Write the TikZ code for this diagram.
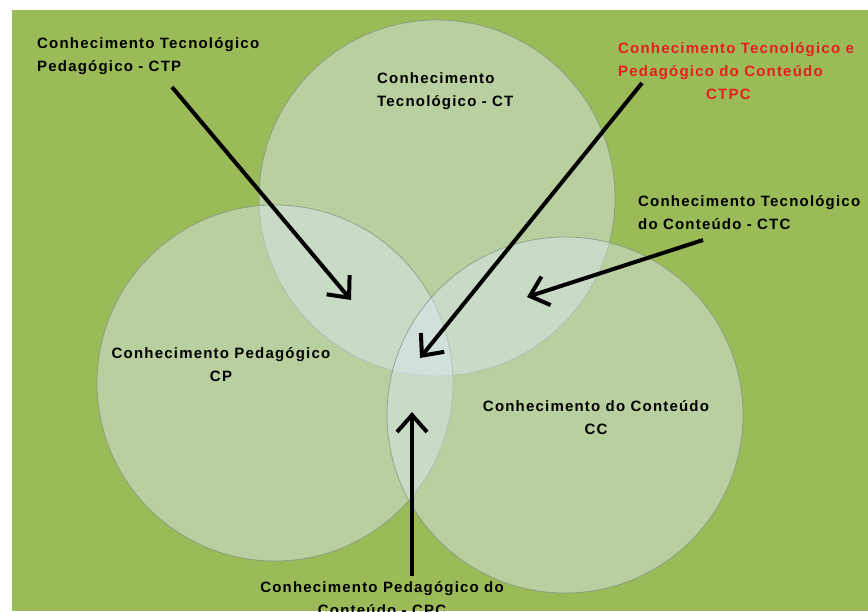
\documentclass[tikz,border=0pt]{standalone}
\usepackage{fontspec}
\setmainfont{Liberation Sans}[LetterSpace=8]
\usetikzlibrary{arrows.meta,positioning}

\definecolor{bggreen}{RGB}{155,187,89}
\definecolor{vennfill}{RGB}{222,232,246}
\definecolor{vennline}{RGB}{120,145,130}
\definecolor{ctpcred}{RGB}{232,30,30}

\begin{document}
\begin{tikzpicture}[x=1pt,y=-1pt,
  venn/.style={circle,draw=vennline,line width=0.8pt,fill=vennfill,fill opacity=0.45,
    draw opacity=0.7,minimum size=356pt,inner sep=0pt},
  lbl/.style={font=\bfseries\fontsize{15}{23}\selectfont,inner sep=0pt},
  pointer/.style={-{Straight Barb[length=17pt,width=30pt]},line width=4pt,black}]
  \useasboundingbox (0,0) rectangle (868,611);
  \fill[white] (0,0) rectangle (868,611);
  \fill[bggreen] (12,10) rectangle (868,611);

  % the three sets
  \node[venn] (ct) at (437,198) {};
  \node[venn] (cp) at (275,383) {};
  \node[venn] (cc) at (565,415) {};

  % labels (placed at the baseline of their last line)
  \node[lbl,anchor=base west,align=left] (ctl) at (377,106)
    {Conhecimento\\Tecnológico - CT};
  \node[lbl,anchor=base,align=center] (cpl) at (221,381)
    {Conhecimento Pedagógico\\CP};
  \node[lbl,anchor=base,align=center] (ccl) at (596,434)
    {Conhecimento do Conteúdo\\CC};
  \node[lbl,anchor=base west,align=left] (ctp) at (37,71)
    {Conhecimento Tecnológico\\Pedagógico - CTP};
  \node[lbl,anchor=base west,align=left,text=ctpcred] (ctpc) at (618,99)
    {Conhecimento Tecnológico e\\Pedagógico do Conteúdo\\\hspace*{88pt}CTPC};
  \node[lbl,anchor=base west,align=left] (ctc) at (638,229)
    {Conhecimento Tecnológico\\do Conteúdo - CTC};
  \node[lbl,anchor=base,align=center] (cpc) at (382,615)
    {Conhecimento Pedagógico do\\Conteúdo - CPC};

  % arrow ends
  \coordinate (ctp-tail) at (172,87);
  \coordinate (ctp-tip) at (351,300);
  \coordinate (ctpc-tail) at (642,83);
  \coordinate (ctpc-tip) at (420,358);
  \coordinate (ctc-tail) at (703,240);
  \coordinate (ctc-tip) at (527,297);
  \coordinate (cpc-tail) at (412,576);
  \coordinate (cpc-tip) at (412,412);

  \path[pointer]
  (ctp-tail) edge (ctp-tip)
  (ctpc-tail) edge (ctpc-tip)
  (ctc-tail) edge (ctc-tip)
  (cpc-tail) edge (cpc-tip)
  ;
\end{tikzpicture}
\end{document}
